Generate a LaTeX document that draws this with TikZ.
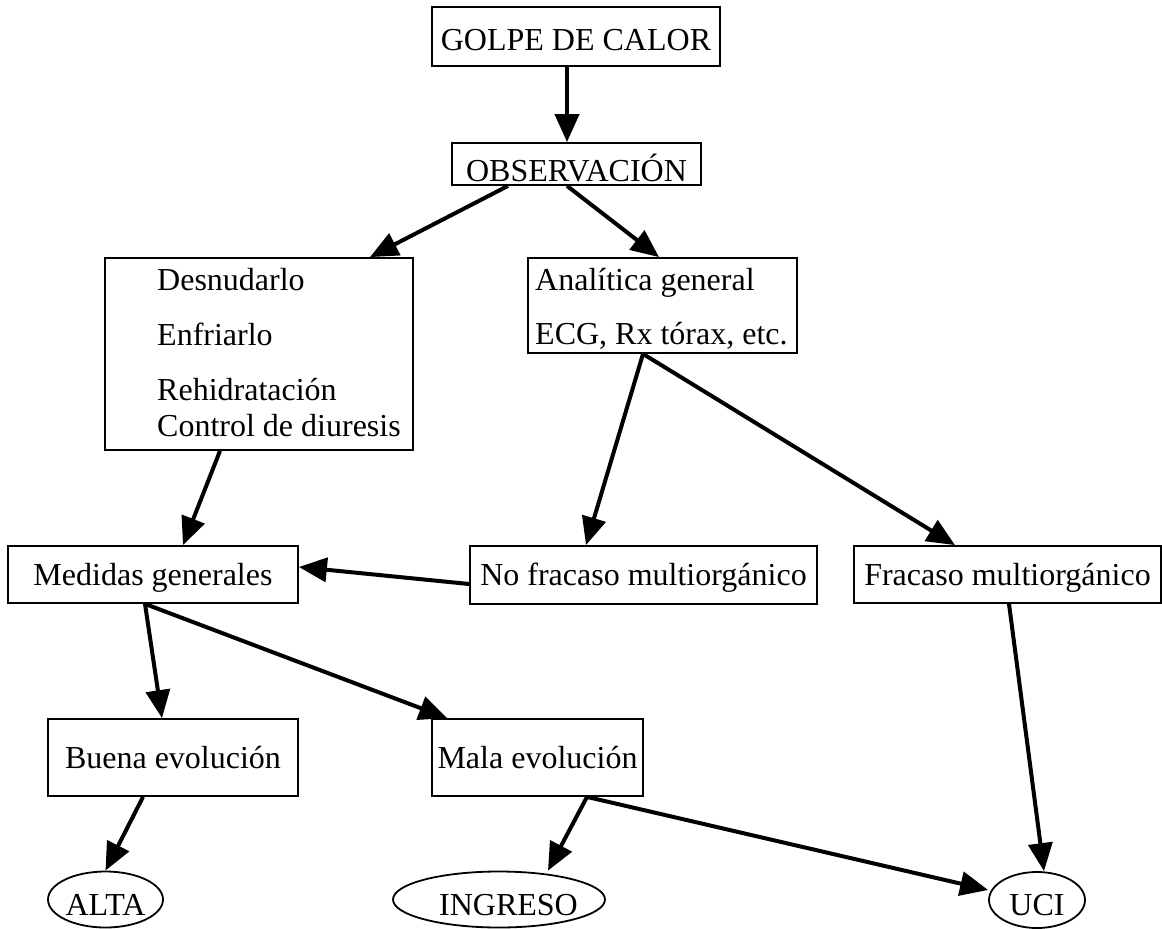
\documentclass[tikz,border=0pt]{standalone}
\usepackage{fontspec}
\setmainfont{Liberation Serif}
\usetikzlibrary{arrows.meta,shapes.geometric}

\begin{document}
\begin{tikzpicture}[x=1pt,y=-1pt,
	every node/.style={font=\fontsize{32}{38}\selectfont},
	box/.style={draw,line width=1.8pt,inner sep=0pt,text height=21pt,text depth=0pt},
	linea/.style={anchor=base west,inner sep=0pt},
	oval/.style={draw,ellipse,line width=1.8pt,inner sep=0pt,minimum height=56pt,text height=31pt,text depth=0pt},
	flecha/.style={line width=4pt,-{Triangle[length=28pt,width=24pt]}}]
		\useasboundingbox (0,0) rectangle (1162,929);
		% cajas
		\node[box,minimum width=288pt,minimum height=59pt,text height=27pt] (golpe) at (576,36.5) {GOLPE DE CALOR};
		\node[box,minimum width=249pt,minimum height=42pt,text height=34pt] (obs) at (576.5,164) {OBSERVACIÓN};
		\node[box,minimum width=308pt,minimum height=192pt] (medfis) at (259,354) {};
		\node[linea] (desn) at (157,290) {Desnudarlo};
		\node[linea] (enfr) at (157,345) {Enfriarlo};
		\node[linea] (rehid) at (157,400) {Rehidratación};
		\node[linea] (diur) at (157,436) {Control de diuresis};
		\node[box,minimum width=269pt,minimum height=95pt] (anal) at (662.5,305.5) {};
		\node[linea] (anal1) at (535,290) {Analítica general};
		\node[linea] (anal2) at (535,344) {ECG, Rx tórax, etc.};
		\node[box,minimum width=290pt,minimum height=57pt] (medgen) at (153,574.5) {Medidas generales};
		\node[box,minimum width=347pt,minimum height=58pt] (nofracaso) at (643.5,575) {No fracaso multiorgánico};
		\node[box,minimum width=307pt,minimum height=57pt] (fracaso) at (1007.5,574.5) {Fracaso multiorgánico};
		\node[box,minimum width=250pt,minimum height=77pt] (buena) at (173,757.5) {Buena evolución};
		\node[box,minimum width=211pt,minimum height=77pt] (mala) at (537.5,757.5) {Mala evolución};
		% destinos
		\node[oval,minimum width=115pt] (alta) at (105.5,899.5) {\makebox[0pt]{ALTA}};
		\node[oval,minimum width=212pt] (ingreso) at (499,899.5) {\makebox[0pt]{\hspace{19pt}INGRESO}};
		\node[oval,minimum width=96pt] (uci) at (1037,900) {\makebox[0pt]{UCI}};
		% flechas
		\draw[flecha] ([xshift=-9pt]golpe.south) -- ([xshift=-9.5pt]obs.north);
		\draw[flecha] ([xshift=-68.5pt]obs.south) -- ([xshift=111pt]medfis.north);
		\draw[flecha] ([xshift=-9.5pt]obs.south) -- ([xshift=-3.5pt]anal.north);
		\draw[flecha] ([xshift=-19.5pt]anal.south) -- ([xshift=-57.5pt]nofracaso.north);
		\draw[flecha] ([xshift=-19.5pt]anal.south) -- ([xshift=-52.5pt]fracaso.north);
		\draw[flecha] ([xshift=-39pt]medfis.south) -- ([xshift=30pt]medgen.north);
		\draw[flecha] ([yshift=-9pt]nofracaso.west) -- ([yshift=7.5pt]medgen.east);
		\draw[flecha] ([xshift=-8pt]medgen.south) -- ([xshift=-11pt]buena.north);
		\draw[flecha] ([xshift=-8pt]medgen.south) -- ([xshift=-90.5pt]mala.north);
		\draw[flecha] ([xshift=1.5pt]fracaso.south) -- ([xshift=7pt]uci.north);
		\draw[flecha] ([xshift=-30pt]buena.south) -- (alta.north);
		\draw[flecha] ([xshift=49.5pt]mala.south) -- ([xshift=49pt]ingreso.north);
		\draw[flecha] ([xshift=49.5pt]mala.south) -- ([yshift=10pt]uci.west);
\end{tikzpicture}
\end{document}
